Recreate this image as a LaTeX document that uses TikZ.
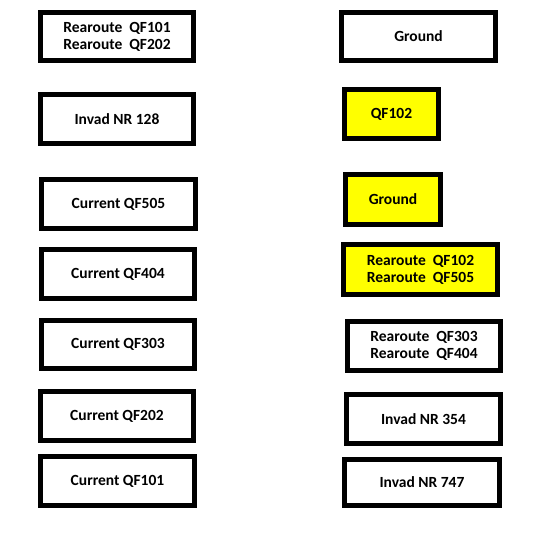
\documentclass[tikz,border=0pt]{standalone}
\usepackage{fontspec}
\setmainfont{Carlito}
\usepackage{tikz}
\definecolor{hl}{RGB}{255,255,0}
\tikzset{
  box/.style={draw=black, line width=5pt, rectangle, inner sep=0pt, align=left,
    font=\bfseries\fontsize{15.5}{17}\selectfont},
  hlbox/.style={box, fill=hl},
}

\begin{document}
\begin{tikzpicture}[x=1pt,y=-1pt]
  \useasboundingbox (0,0) rectangle (540,540);
  % left column
  \node[box, minimum width=153pt, minimum height=48pt] (rr1) at (117,36.5) {Rearoute~ QF101\\Rearoute~ QF202};
  \node[box, minimum width=153pt, minimum height=49pt] (nr1) at (117,119) {Invad NR 128};
  \node[box, minimum width=154pt, minimum height=49pt] (c5) at (118.5,204) {Current QF505};
  \node[box, minimum width=153pt, minimum height=49pt] (c4) at (118,274) {Current QF404};
  \node[box, minimum width=153pt, minimum height=48pt] (c3) at (118,344.5) {Current QF303};
  \node[box, minimum width=153pt, minimum height=49pt] (c2) at (117,416) {Current QF202};
  \node[box, minimum width=154pt, minimum height=49pt] (c1) at (117.5,481) {Current QF101};
  % right column
  \node[box, minimum width=154pt, minimum height=48pt] (gnd1) at (418.5,36.5) {Ground};
  \node[hlbox, minimum width=94pt, minimum height=49pt] (qf) at (391.5,114) {QF102};
  \node[hlbox, minimum width=95pt, minimum height=50pt] (gnd2) at (393,199.5) {Ground};
  \node[hlbox, minimum width=154pt, minimum height=50pt] (rr2) at (420.5,269.5) {Rearoute~ QF102\\Rearoute~ QF505};
  \node[box, minimum width=153pt, minimum height=49pt] (rr3) at (424,346) {Rearoute~ QF303\\Rearoute~ QF404};
  \node[box, minimum width=154pt, minimum height=49pt] (nr2) at (423.5,419) {Invad NR 354};
  \node[box, minimum width=155pt, minimum height=46pt] (nr3) at (422,482.5) {Invad NR 747};
\end{tikzpicture}
\end{document}
